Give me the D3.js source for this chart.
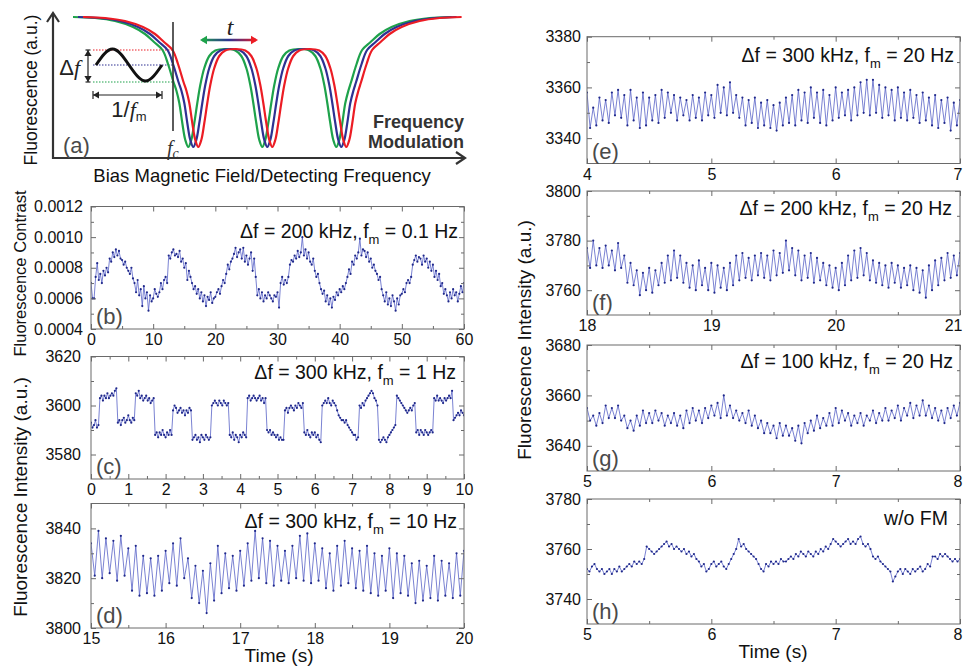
<!DOCTYPE html>
<html>
<head>
<meta charset="utf-8">
<script src="https://cdn.jsdelivr.net/npm/d3@7"></script>
<style>
body { margin: 0; background: #fff; }
svg { display: block; font-family: Arial, "Liberation Sans", Helvetica, sans-serif; }
text { white-space: pre; }
.tick text { font-family: "Liberation Sans Narrow", "Arial Narrow", Arial, sans-serif; }
</style>
</head>
<body>
<svg id="fig" width="963" height="668"></svg>
<script>
// (b) fluorescence contrast, fm = 0.1 Hz, one point every 0.25 s
var bContrast = [
    0.00070, 0.00060, 0.00060, 0.00074, 0.00083, 0.00072, 0.00076, 0.00070, 0.00078, 0.00075, 0.00080, 0.00077,
    0.00086, 0.00084, 0.00090, 0.00087, 0.00092, 0.00088, 0.00091, 0.00086, 0.00085, 0.00082, 0.00084, 0.00080,
    0.00078, 0.00076, 0.00080, 0.00073, 0.00070, 0.00064, 0.00072, 0.00062, 0.00066, 0.00055, 0.00068, 0.00060,
    0.00064, 0.00052, 0.00062, 0.00058, 0.00060, 0.00066, 0.00063, 0.00061, 0.00064, 0.00070, 0.00066, 0.00072,
    0.00074, 0.00070, 0.00088, 0.00086, 0.00090, 0.00092, 0.00088, 0.00089, 0.00087, 0.00091, 0.00084, 0.00086,
    0.00080, 0.00083, 0.00072, 0.00078, 0.00074, 0.00070, 0.00066, 0.00068, 0.00063, 0.00066, 0.00060, 0.00064,
    0.00058, 0.00062, 0.00055, 0.00061, 0.00059, 0.00064, 0.00057, 0.00060, 0.00061, 0.00064, 0.00066, 0.00063,
    0.00068, 0.00072, 0.00070, 0.00076, 0.00082, 0.00079, 0.00084, 0.00086, 0.00089, 0.00093, 0.00087, 0.00090,
    0.00092, 0.00086, 0.00093, 0.00084, 0.00088, 0.00082, 0.00086, 0.00090, 0.00078, 0.00086, 0.00074, 0.00062,
    0.00066, 0.00060, 0.00064, 0.00058, 0.00062, 0.00060, 0.00064, 0.00062, 0.00060, 0.00058, 0.00062, 0.00061,
    0.00064, 0.00054, 0.00070, 0.00074, 0.00069, 0.00072, 0.00070, 0.00074, 0.00082, 0.00085, 0.00084, 0.00088,
    0.00086, 0.00091, 0.00087, 0.00090, 0.00100, 0.00088, 0.00092, 0.00086, 0.00090, 0.00084, 0.00082, 0.00086,
    0.00078, 0.00074, 0.00076, 0.00070, 0.00066, 0.00063, 0.00065, 0.00058, 0.00062, 0.00056, 0.00060, 0.00054,
    0.00061, 0.00059, 0.00064, 0.00062, 0.00066, 0.00064, 0.00068, 0.00066, 0.00070, 0.00074, 0.00079, 0.00076,
    0.00084, 0.00082, 0.00088, 0.00086, 0.00090, 0.00099, 0.00088, 0.00092, 0.00091, 0.00087, 0.00090, 0.00084,
    0.00086, 0.00080, 0.00082, 0.00078, 0.00076, 0.00072, 0.00074, 0.00066, 0.00062, 0.00058, 0.00064, 0.00056,
    0.00060, 0.00055, 0.00062, 0.00058, 0.00052, 0.00060, 0.00056, 0.00062, 0.00063, 0.00066, 0.00064, 0.00070,
    0.00072, 0.00070, 0.00074, 0.00082, 0.00085, 0.00088, 0.00084, 0.00087, 0.00086, 0.00082, 0.00088, 0.00084,
    0.00086, 0.00080, 0.00084, 0.00078, 0.00082, 0.00074, 0.00078, 0.00072, 0.00076, 0.00068, 0.00070, 0.00063,
    0.00066, 0.00062, 0.00058, 0.00064, 0.00060, 0.00066, 0.00062, 0.00064, 0.00058, 0.00063, 0.00068, 0.00064,
    0.00070
];

// (c) intensity, df = 300 kHz, fm = 1 Hz, one point every 0.04 s
var cIntensity = [
    3593, 3591, 3592, 3594, 3591, 3592,
    3603, 3604, 3602, 3604, 3603, 3605, 3603, 3604, 3605, 3604, 3606, 3607,
    3593, 3594, 3592, 3594, 3595, 3593, 3594, 3596, 3594, 3593, 3595, 3594,
    3605, 3604, 3606, 3603, 3604, 3602, 3603, 3604, 3602, 3603, 3601, 3602, 3603,
    3588, 3589, 3587, 3589, 3588, 3590, 3588, 3587, 3589, 3588, 3590, 3588,
    3598, 3600, 3599, 3597, 3598, 3599, 3597, 3598, 3596, 3598, 3597, 3599, 3598,
    3586, 3587, 3588, 3586, 3587, 3585, 3588, 3587, 3586, 3588, 3587, 3586, 3587,
    3600, 3601, 3602, 3601, 3600, 3602, 3601, 3600, 3602, 3601, 3600, 3601,
    3588, 3587, 3589, 3586, 3588, 3587, 3585, 3588, 3587, 3589, 3588, 3587,
    3603, 3604, 3602, 3603, 3604, 3603, 3602, 3603, 3604, 3602, 3603, 3601, 3603,
    3590, 3589, 3590, 3588, 3589, 3588, 3587, 3588, 3586, 3587, 3586, 3586,
    3598, 3599, 3597, 3599, 3600, 3599, 3598, 3600, 3599, 3601, 3600, 3599, 3601,
    3589, 3588, 3590, 3588, 3587, 3589, 3588, 3589, 3587, 3588, 3586, 3585,
    3600, 3601, 3602, 3601, 3603, 3601, 3600, 3602, 3601, 3600, 3598, 3596, 3595,
    3594, 3594, 3593, 3594, 3592, 3591, 3590, 3589, 3588, 3588, 3586, 3587,
    3600, 3599, 3601, 3600, 3602, 3603, 3604, 3605, 3606, 3605, 3603, 3602, 3600,
    3586, 3585, 3586, 3587, 3586, 3585, 3587, 3588, 3589, 3590, 3591, 3592,
    3604, 3603, 3602, 3601, 3600, 3599, 3598, 3597, 3598, 3599, 3598, 3600, 3601,
    3589, 3590, 3588, 3590, 3589, 3588, 3590, 3589, 3588, 3589, 3590, 3589,
    3603, 3602, 3604, 3602, 3603, 3602, 3601, 3603, 3602, 3603, 3604, 3603, 3606,
    3594, 3595, 3596, 3597, 3596, 3598, 3597, 3596
];

// (d) df = 300 kHz, fm = 10 Hz, peak / trough every 0.05 s
var dIntensity = [
    3834, 3821, 3839, 3820, 3836, 3822, 3835, 3819, 3837, 3821, 3832, 3815, 3833, 3813, 3829, 3814, 3828, 3813, 3829, 3815,
    3831, 3818, 3834, 3817, 3836, 3820, 3828, 3812, 3825, 3810, 3823, 3806, 3826, 3811, 3833, 3814, 3830, 3816, 3829, 3815,
    3831, 3817, 3834, 3819, 3839, 3820, 3836, 3818, 3835, 3817, 3833, 3819, 3831, 3818, 3833, 3820, 3837, 3819, 3838, 3818,
    3834, 3819, 3832, 3816, 3830, 3815, 3833, 3817, 3835, 3818, 3832, 3816, 3831, 3815, 3833, 3814, 3830, 3813, 3829, 3815,
    3832, 3812, 3830, 3814, 3829, 3813, 3826, 3810, 3827, 3811, 3825, 3812, 3829, 3811, 3827, 3813, 3826, 3812, 3830, 3813,
    3831
];

// (e) df = 300 kHz, fm = 20 Hz, every 0.025 s
var eIntensity = [
    3358, 3344, 3352, 3345, 3356, 3347, 3355, 3346, 3358, 3349, 3359, 3348, 3357, 3345, 3359, 3347, 3356, 3344, 3358, 3345,
    3356, 3347, 3357, 3346, 3359, 3348, 3358, 3350, 3357, 3347, 3356, 3349, 3355, 3347, 3357, 3348, 3356, 3347, 3358, 3349,
    3357, 3348, 3361, 3350, 3360, 3349, 3362, 3350, 3357, 3348, 3356, 3345, 3355, 3346, 3356, 3344, 3354, 3345, 3355, 3344,
    3353, 3343, 3354, 3345, 3356, 3346, 3357, 3345, 3359, 3347, 3358, 3346, 3360, 3348, 3358, 3346, 3359, 3345, 3357, 3347,
    3360, 3348, 3358, 3349, 3359, 3347, 3360, 3349, 3362, 3350, 3363, 3349, 3363, 3350, 3361, 3348, 3360, 3349, 3359, 3347,
    3360, 3348, 3358, 3347, 3359, 3348, 3357, 3346, 3358, 3347, 3356, 3345, 3357, 3344, 3355, 3346, 3356, 3343, 3354, 3345,
    3355
];

// (f) df = 200 kHz, fm = 20 Hz
var fIntensity = [
    3777, 3769, 3780, 3770, 3777, 3769, 3778, 3770, 3776, 3768, 3779, 3769, 3774, 3763, 3771, 3762, 3768, 3758, 3767, 3760,
    3769, 3759, 3768, 3762, 3771, 3763, 3774, 3764, 3776, 3765, 3774, 3763, 3771, 3761, 3770, 3760, 3772, 3762, 3769, 3760,
    3771, 3759, 3770, 3761, 3769, 3760, 3771, 3762, 3774, 3764, 3775, 3765, 3773, 3764, 3774, 3766, 3775, 3765, 3774, 3764,
    3776, 3766, 3775, 3767, 3780, 3768, 3777, 3766, 3776, 3764, 3774, 3765, 3775, 3763, 3773, 3764, 3771, 3762, 3770, 3761,
    3769, 3760, 3771, 3762, 3774, 3764, 3776, 3765, 3777, 3766, 3775, 3764, 3772, 3763, 3771, 3762, 3770, 3761, 3771, 3763,
    3770, 3761, 3769, 3762, 3770, 3760, 3769, 3759, 3768, 3757, 3770, 3760, 3772, 3762, 3773, 3764, 3775, 3765, 3774, 3766,
    3775
];

// (g) df = 100 kHz, fm = 20 Hz
var gIntensity = [
    3655, 3650, 3652, 3648, 3653, 3649, 3656, 3651, 3655, 3651, 3656, 3650, 3652, 3647, 3650, 3646, 3652, 3648, 3654, 3649,
    3653, 3649, 3654, 3650, 3653, 3648, 3652, 3649, 3653, 3648, 3652, 3647, 3654, 3649, 3655, 3650, 3654, 3649, 3655, 3651,
    3656, 3652, 3657, 3651, 3660, 3652, 3656, 3651, 3654, 3650, 3653, 3649, 3654, 3648, 3652, 3647, 3650, 3645, 3649, 3645,
    3648, 3643, 3649, 3644, 3648, 3644, 3647, 3642, 3648, 3641, 3649, 3645, 3650, 3646, 3652, 3647, 3651, 3648, 3653, 3648,
    3655, 3649, 3654, 3650, 3653, 3648, 3652, 3649, 3653, 3648, 3652, 3650, 3654, 3649, 3653, 3650, 3655, 3650, 3654, 3651,
    3656, 3650, 3655, 3652, 3657, 3651, 3656, 3652, 3658, 3652, 3656, 3651, 3655, 3650, 3654, 3649, 3655, 3651, 3656, 3652,
    3657
];

// (h) without FM, every 0.02 s
var hIntensity = [
    3752, 3751, 3753, 3754, 3752, 3751, 3752, 3750, 3751, 3752, 3750, 3752, 3751, 3753, 3751,
    3752, 3753, 3754, 3753, 3755, 3754, 3755, 3754, 3756, 3761, 3760, 3759, 3758, 3759, 3760,
    3761, 3762, 3763, 3761, 3762, 3760, 3761, 3760, 3759, 3760, 3758, 3759, 3757, 3758, 3756,
    3755, 3753, 3754, 3751, 3752, 3754, 3755, 3753, 3754, 3755, 3753, 3752, 3754, 3756, 3758,
    3760, 3764, 3761, 3762, 3760, 3759, 3758, 3757, 3756, 3754, 3752, 3751, 3754, 3753, 3755,
    3754, 3755, 3754, 3756, 3755, 3755, 3756, 3757, 3756, 3758, 3757, 3759, 3758, 3757, 3759,
    3758, 3757, 3759, 3758, 3760, 3759, 3761, 3760, 3762, 3764, 3763, 3762, 3761, 3762, 3763,
    3764, 3762, 3763, 3762, 3764, 3765, 3762, 3761, 3762, 3760, 3757, 3756, 3757, 3755, 3754,
    3753, 3752, 3751, 3747, 3749, 3751, 3752, 3750, 3752, 3751, 3750, 3752, 3751, 3752, 3753,
    3751, 3752, 3754, 3753, 3757, 3757, 3756, 3758, 3757, 3758, 3757, 3756, 3755, 3756, 3755,
    3756
];

var bXTicks = [0, 10, 20, 30, 40, 50, 60], bYTicks = [0.0004, 0.0006, 0.0008, 0.0010, 0.0012];
var cXTicks = [0, 1, 2, 3, 4, 5, 6, 7, 8, 9, 10], cYTicks = [3580, 3600, 3620];
var dXTicks = [15, 16, 17, 18, 19, 20], dYTicks = [3800, 3820, 3840];
var eXTicks = [4, 5, 6, 7], eYTicks = [3340, 3360, 3380];
var fXTicks = [18, 19, 20, 21], fYTicks = [3760, 3780, 3800];
var gXTicks = [5, 6, 7, 8], gYTicks = [3640, 3660, 3680];
var hXTicks = [5, 6, 7, 8], hYTicks = [3740, 3760, 3780];

var bNote = ['\u0394f = 200 kHz, f', 'm', ' = 0.1 Hz'];
var cNote = ['\u0394f = 300 kHz, f', 'm', ' = 1 Hz'];
var dNote = ['\u0394f = 300 kHz, f', 'm', ' = 10 Hz'];
var eNote = ['\u0394f = 300 kHz, f', 'm', ' = 20 Hz'];
var fNote = ['\u0394f = 200 kHz, f', 'm', ' = 20 Hz'];
var gNote = ['\u0394f = 100 kHz, f', 'm', ' = 20 Hz'];
var hNote = ['w/o FM'];

// (a) schematic: centre (blue) resonance curve in arbitrary units, shifted copies for green / red
var aCurve = [
    [25, 141], [47, 140], [67, 137], [85, 131], [97, 124], [106, 116], [114.5, 108], [120, 94], [125.5, 76],
    [128.5, 67], [131.3, 55], [134.3, 35], [137.3, 18], [140.3, 11], [143.3, 18], [146.3, 35], [149.3, 55],
    [152.3, 73], [156.3, 90], [161.3, 102], [167.3, 107.5], [177.3, 109], [187.3, 107.5], [193.3, 102],
    [198.3, 90], [202.3, 73], [205.3, 55], [208.3, 35], [211.3, 18], [214.3, 11], [217.3, 18], [220.3, 35],
    [223.3, 55], [226.3, 73], [230.3, 90], [235.3, 102], [241.3, 107.5], [251.3, 109], [261.3, 107.5],
    [267.3, 102], [272.3, 90], [276.3, 73], [279.3, 55], [282.3, 35], [285.3, 18], [288.3, 11], [291.3, 18],
    [294.3, 35], [297.3, 55], [300.3, 67], [303.1, 76], [308.6, 94], [314.1, 108], [322.6, 116], [331.6, 124],
    [343.6, 131], [361.6, 137], [381.6, 140], [403.6, 141]
];
var aShifts = [-5, 0, 5];
var aColors = ['#1ea24b', '#2e3192', '#ec1c24'];
var aLevels = [76, 93, 108];   // green, blue, red crossing at f_c
var aSine = [[43, 93], [59.5, 109], [76, 93], [92.5, 77], [109, 93]];

var svg = d3.select('#fig');
var lineColor = '#5862c6', dotColor = '#1f288a', frameColor = '#6a6a6a';

function midpoints(arr) {
    var out = [];
    for (var i = 1; i < arr.length; i++) out.push((arr[i - 1] + arr[i]) / 2);
    return out;
}

function drawPanel(p) {
    var x = d3.scaleLinear().domain(p.xDomain).range([p.left, p.right]),
        y = d3.scaleLinear().domain(p.yDomain).range([p.bottom, p.top]);
    var g = svg.append('g');
    var dt = (p.xDomain[1] - p.xDomain[0]) / (p.values.length - 1);
    var pts = p.values.map(function(v, i) { return [p.xDomain[0] + i * dt, v]; });

    var clipId = 'clip' + p.name;
    svg.append('clipPath').attr('id', clipId).append('rect')
        .attr('x', p.left).attr('y', p.top)
        .attr('width', p.right - p.left).attr('height', p.bottom - p.top);

    var data = g.append('g').attr('clip-path', 'url(#' + clipId + ')');
    data.append('path')
        .datum(pts)
        .attr('fill', 'none')
        .attr('stroke', lineColor)
        .attr('stroke-width', 0.8)
        .attr('d', d3.line().x(function(d) { return x(d[0]); }).y(function(d) { return y(d[1]); }));
    data.selectAll('circle').data(pts).enter().append('circle')
        .attr('cx', function(d) { return x(d[0]); })
        .attr('cy', function(d) { return y(d[1]); })
        .attr('r', 1.1)
        .attr('fill', dotColor);

    var xMinor = midpoints(p.xTicks), yMinor = midpoints(p.yTicks);
    function put(axis, tx, ty) {
        var a = g.append('g').attr('transform', 'translate(' + tx + ',' + ty + ')').call(axis);
        a.select('.domain').remove();
        a.attr('font-size', 16).attr('font-family', null).style('color', frameColor);
        a.selectAll('text').attr('fill', '#111');
        return a;
    }
    var xa = put(d3.axisBottom(x).tickValues(p.xTicks).tickSize(-5).tickPadding(5).tickFormat(d3.format('d')), 0, p.bottom);
    // the last label on the right-hand panels sits at the page edge: keep it inside
    if (p.right > 950) {
        xa.selectAll('.tick:last-of-type text').attr('text-anchor', 'end').attr('x', 962 - p.right);
    }
    put(d3.axisBottom(x).tickValues(xMinor).tickSize(-3).tickFormat(''), 0, p.bottom);
    put(d3.axisTop(x).tickValues(p.xTicks).tickSize(-5).tickFormat(''), 0, p.top);
    put(d3.axisTop(x).tickValues(xMinor).tickSize(-3).tickFormat(''), 0, p.top);
    put(d3.axisLeft(y).tickValues(p.yTicks).tickSize(-5).tickPadding(p.yPad).tickFormat(d3.format(p.yFormat)), p.left, 0);
    put(d3.axisLeft(y).tickValues(yMinor).tickSize(-3).tickFormat(''), p.left, 0);
    put(d3.axisRight(y).tickValues(p.yTicks).tickSize(-5).tickFormat(''), p.right, 0);
    put(d3.axisRight(y).tickValues(yMinor).tickSize(-3).tickFormat(''), p.right, 0);

    g.append('rect')
        .attr('x', p.left).attr('y', p.top)
        .attr('width', p.right - p.left).attr('height', p.bottom - p.top)
        .attr('fill', 'none').attr('stroke', frameColor).attr('stroke-width', 1);

    var t = g.append('text')
        .attr('x', p.right - p.noteDx).attr('y', p.top + p.noteDy)
        .attr('text-anchor', 'end').attr('font-size', 19.5).attr('fill', '#111');
    t.append('tspan').text(p.note[0]);
    if (p.note.length > 1) {
        t.append('tspan').attr('dy', 6).attr('font-size', 13).text(p.note[1]);
        t.append('tspan').attr('dy', -6).text(p.note[2]);
    }

    g.append('text')
        .attr('x', p.left + 5).attr('y', p.bottom - 5)
        .attr('font-size', 22).attr('fill', '#4a4a4a')
        .text(p.label);
}

var leftX = [91, 464], rightX = [587, 960];
drawPanel({ name: 'b', values: bContrast, xDomain: [0, 60], yDomain: [0.0004, 0.0012], xTicks: bXTicks, yTicks: bYTicks,
    yFormat: '.4f', left: leftX[0], right: leftX[1], top: 206.5, bottom: 329, yPad: 8, note: bNote, noteDx: 6, noteDy: 31, label: '(b)' });
drawPanel({ name: 'c', values: cIntensity, xDomain: [0, 10], yDomain: [3570, 3620], xTicks: cXTicks, yTicks: cYTicks,
    yFormat: 'd', left: leftX[0], right: leftX[1], top: 356.5, bottom: 479, yPad: 10, note: cNote, noteDx: 8, noteDy: 22, label: '(c)' });
drawPanel({ name: 'd', values: dIntensity, xDomain: [15, 20], yDomain: [3800, 3850], xTicks: dXTicks, yTicks: dYTicks,
    yFormat: 'd', left: leftX[0], right: leftX[1], top: 503.5, bottom: 628, yPad: 10, note: dNote, noteDx: 7, noteDy: 24, label: '(d)' });
drawPanel({ name: 'e', values: eIntensity, xDomain: [4, 7], yDomain: [3330, 3380], xTicks: eXTicks, yTicks: eYTicks,
    yFormat: 'd', left: rightX[0], right: rightX[1], top: 36.7, bottom: 163.5, yPad: 6, note: eNote, noteDx: 6, noteDy: 25, label: '(e)' });
drawPanel({ name: 'f', values: fIntensity, xDomain: [18, 21], yDomain: [3750, 3800], xTicks: fXTicks, yTicks: fYTicks,
    yFormat: 'd', left: rightX[0], right: rightX[1], top: 191, bottom: 315, yPad: 6, note: fNote, noteDx: 8, noteDy: 24, label: '(f)' });
drawPanel({ name: 'g', values: gIntensity, xDomain: [5, 8], yDomain: [3630, 3680], xTicks: gXTicks, yTicks: gYTicks,
    yFormat: 'd', left: rightX[0], right: rightX[1], top: 345, bottom: 471, yPad: 6, note: gNote, noteDx: 7, noteDy: 23, label: '(g)' });
drawPanel({ name: 'h', values: hIntensity, xDomain: [5, 8], yDomain: [3730, 3780], xTicks: hXTicks, yTicks: hYTicks,
    yFormat: 'd', left: rightX[0], right: rightX[1], top: 499, bottom: 624, yPad: 6, note: hNote, noteDx: 12, noteDy: 26, label: '(h)' });

// axis titles
function vLabel(txt, x, y, size) {
    svg.append('text').attr('transform', 'translate(' + x + ',' + y + ') rotate(-90)')
        .attr('text-anchor', 'middle').attr('font-size', size).attr('fill', '#111').text(txt);
}
vLabel('Fluorescence Contrast', 26, 273.5, 16.5);
vLabel('Fluorescence Intensity (a.u.)', 27, 497, 19);
vLabel('Fluorescence Intensity (a.u.)', 531, 340, 19);
svg.append('text').attr('x', 279).attr('y', 662).attr('text-anchor', 'middle').attr('font-size', 19).attr('fill', '#111').text('Time (s)');
svg.append('text').attr('x', 773).attr('y', 658).attr('text-anchor', 'middle').attr('font-size', 19).attr('fill', '#111').text('Time (s)');

// ---- panel (a) ----
var ax = d3.scaleLinear().domain([0, 412]).range([53, 465]),
    ay = d3.scaleLinear().domain([0, 145]).range([158, 13]);
var ga = svg.append('g');
var defs = svg.append('defs');
var grad = defs.append('linearGradient').attr('id', 'tgrad')
    .attr('gradientUnits', 'userSpaceOnUse')
    .attr('x1', ax(147)).attr('x2', ax(205)).attr('y1', 0).attr('y2', 0);
grad.append('stop').attr('offset', '0%').attr('stop-color', aColors[0]);
grad.append('stop').attr('offset', '50%').attr('stop-color', aColors[1]);
grad.append('stop').attr('offset', '100%').attr('stop-color', aColors[2]);

// axes with open arrow heads
ga.append('path').attr('d', d3.line()([[ax(0), ay(145)], [ax(0), ay(0)], [ax(412), ay(0)]]))
    .attr('fill', 'none').attr('stroke', '#333').attr('stroke-width', 2.2);
ga.append('path').attr('d', d3.line()([[ax(0) - 6, ay(145) + 9], [ax(0), ay(145)], [ax(0) + 6, ay(145) + 9]]))
    .attr('fill', 'none').attr('stroke', '#333').attr('stroke-width', 2.2);
ga.append('path').attr('d', d3.line()([[ax(412) - 9, ay(0) - 6], [ax(412), ay(0)], [ax(412) - 9, ay(0) + 6]]))
    .attr('fill', 'none').attr('stroke', '#333').attr('stroke-width', 2.2);

// dotted levels
aLevels.forEach(function(f, i) {
    ga.append('line').attr('x1', ax(40)).attr('x2', ax(120)).attr('y1', ay(f)).attr('y2', ay(f))
        .attr('stroke', aColors[i]).attr('stroke-width', 1.2).attr('stroke-dasharray', '1.5,1.5');
});

// resonance curves
var curveGen = d3.line().curve(d3.curveCatmullRom.alpha(0.5))
    .x(function(d) { return ax(d[0]); }).y(function(d) { return ay(d[1]); });
aShifts.forEach(function(s, i) {
    ga.append('path')
        .datum(aCurve.map(function(d) { return [d[0] + s, d[1]]; }))
        .attr('fill', 'none').attr('stroke', aColors[i]).attr('stroke-width', 2.2)
        .attr('d', curveGen);
});

// f_c marker line
ga.append('line').attr('x1', ax(120)).attr('x2', ax(120)).attr('y1', ay(136)).attr('y2', ay(27))
    .attr('stroke', '#333').attr('stroke-width', 1.6);

// modulation sine
ga.append('path').datum(aSine)
    .attr('d', d3.line().curve(d3.curveNatural).x(function(d) { return ax(d[0]); }).y(function(d) { return ay(d[1]); }))
    .attr('fill', 'none').attr('stroke', '#111').attr('stroke-width', 3);

function tri(x, y, dir, size, color) {
    var s = size, p;
    if (dir === 'up') p = [[x, y], [x - s * 0.6, y + s], [x + s * 0.6, y + s]];
    if (dir === 'down') p = [[x, y], [x - s * 0.6, y - s], [x + s * 0.6, y - s]];
    if (dir === 'left') p = [[x, y], [x + s, y - s * 0.6], [x + s, y + s * 0.6]];
    if (dir === 'right') p = [[x, y], [x - s, y - s * 0.6], [x - s, y + s * 0.6]];
    ga.append('path').attr('d', d3.line()(p) + 'Z').attr('fill', color);
}

// delta f arrow
ga.append('line').attr('x1', ax(35)).attr('x2', ax(35)).attr('y1', ay(108)).attr('y2', ay(76))
    .attr('stroke', '#222').attr('stroke-width', 1.2);
[108, 76].forEach(function(f) {
    ga.append('line').attr('x1', ax(32.5)).attr('x2', ax(37.5)).attr('y1', ay(f)).attr('y2', ay(f))
        .attr('stroke', '#222').attr('stroke-width', 1.2);
});
tri(ax(35), ay(108), 'up', 6, '#222');
tri(ax(35), ay(76), 'down', 6, '#222');
var dft = ga.append('text').attr('x', ax(27)).attr('y', ay(83)).attr('text-anchor', 'end').attr('font-size', 22).attr('fill', '#222');
dft.append('tspan').text('\u0394');
dft.append('tspan').attr('font-family', '"Liberation Serif", "Times New Roman", serif').attr('font-style', 'italic').text('f');

// 1/fm arrow
ga.append('line').attr('x1', ax(40)).attr('x2', ax(109)).attr('y1', ay(63)).attr('y2', ay(63))
    .attr('stroke', '#222').attr('stroke-width', 1.2);
[40, 109].forEach(function(u) {
    ga.append('line').attr('x1', ax(u)).attr('x2', ax(u)).attr('y1', ay(59)).attr('y2', ay(67))
        .attr('stroke', '#222').attr('stroke-width', 1.2);
});
tri(ax(40), ay(63), 'left', 6, '#222');
tri(ax(109), ay(63), 'right', 6, '#222');
var fmt = ga.append('text').attr('x', ax(76)).attr('y', ay(41)).attr('text-anchor', 'middle').attr('font-size', 22).attr('fill', '#222');
fmt.append('tspan').text('1/');
fmt.append('tspan').attr('font-family', '"Liberation Serif", "Times New Roman", serif').attr('font-style', 'italic').text('f');
fmt.append('tspan').attr('font-size', 13).attr('dy', 4).text('m');

// time shift arrow
ga.append('line').attr('x1', ax(149)).attr('x2', ax(203)).attr('y1', ay(118)).attr('y2', ay(118))
    .attr('stroke', 'url(#tgrad)').attr('stroke-width', 2.4);
tri(ax(147), ay(118), 'left', 7, aColors[0]);
tri(ax(205), ay(118), 'right', 7, aColors[2]);
ga.append('text').attr('x', ax(177)).attr('y', ay(123)).attr('text-anchor', 'middle').attr('font-size', 24)
    .attr('font-family', '"Liberation Serif", "Times New Roman", serif').attr('font-style', 'italic').attr('fill', '#222').text('t');

// f_c label
var fct = ga.append('text').attr('x', ax(114)).attr('y', ay(3)).attr('font-size', 20).attr('fill', '#333')
    .attr('font-family', '"Liberation Serif", "Times New Roman", serif').attr('font-style', 'italic');
fct.append('tspan').text('f');
fct.append('tspan').attr('font-size', 14).attr('dy', 3).text('c');

ga.append('text').attr('x', ax(10)).attr('y', ay(5.3)).attr('font-size', 22).attr('fill', '#4a4a4a').text('(a)');
ga.append('text').attr('x', ax(411)).attr('y', ay(30)).attr('text-anchor', 'end').attr('font-size', 18)
    .attr('font-weight', 'bold').attr('fill', '#333').text('Frequency');
ga.append('text').attr('x', ax(411)).attr('y', ay(10)).attr('text-anchor', 'end').attr('font-size', 18)
    .attr('font-weight', 'bold').attr('fill', '#333').text('Modulation');
ga.append('text').attr('x', 262).attr('y', 182).attr('text-anchor', 'middle').attr('font-size', 18.5)
    .attr('fill', '#111').text('Bias Magnetic Field/Detecting Frequency');
vLabel('Fluorescence (a.u.)', 37, 90, 17.5);
</script>
</body>
</html>
